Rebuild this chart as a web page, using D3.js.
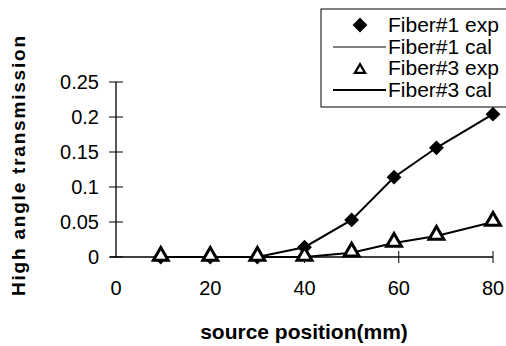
<!DOCTYPE html>
<html>
<head>
<meta charset="utf-8">
<script src="https://cdn.jsdelivr.net/npm/d3@7"></script>
<style>
  body { margin: 0; background: #fff; }
  svg { font-family: "Liberation Sans", Arial, sans-serif; }
</style>
</head>
<body>
<svg id="chart" width="506" height="346"></svg>
<script>
// source positions (mm)
var positions = [9.5, 20, 30, 40, 50, 59, 68, 80];
var fiber1Exp = [0, 0, 0, 0.014, 0.053, 0.114, 0.156, 0.204];
var fiber1Cal = [0, 0, 0, 0.014, 0.053, 0.114, 0.156, 0.204];
var fiber3Exp = [0, 0, 0, 0, 0.006, 0.02, 0.03, 0.05];
var fiber3Cal = [0, 0, 0, 0, 0.006, 0.02, 0.03, 0.05];
var xTicks = [0, 20, 40, 60, 80];
var yTicks = [0, 0.05, 0.1, 0.15, 0.2, 0.25];
var yTickLabels = ["0", "0.05", "0.1", "0.15", "0.2", "0.25"];
var legendLabels = ["Fiber#1 exp", "Fiber#1 cal", "Fiber#3 exp", "Fiber#3 cal"];

var svg = d3.select("#chart");

var x = d3.scaleLinear().domain([0, 80]).range([116, 493]);
var y = d3.scaleLinear().domain([0, 0.25]).range([257, 82]);

// axes
svg.append("line")
	.attr("x1", x(0)).attr("x2", x(0))
	.attr("y1", y(0.25)).attr("y2", y(0))
	.attr("stroke", "#000").attr("stroke-width", 1.3);
svg.append("line")
	.attr("x1", x(0) - 6).attr("x2", x(80))
	.attr("y1", y(0)).attr("y2", y(0))
	.attr("stroke", "#000").attr("stroke-width", 1.3);

svg.append("g").selectAll("line")
	.data(yTicks)
	.enter()
	.append("line")
	.attr("x1", x(0) - 7).attr("x2", x(0) + 7)
	.attr("y1", function(d) { return y(d); })
	.attr("y2", function(d) { return y(d); })
	.attr("stroke", "#000").attr("stroke-width", 1);

svg.append("g").selectAll("line")
	.data(xTicks.slice(1))
	.enter()
	.append("line")
	.attr("x1", function(d) { return x(d); })
	.attr("x2", function(d) { return x(d); })
	.attr("y1", y(0) - 6).attr("y2", y(0) + 6)
	.attr("stroke", "#000").attr("stroke-width", 1);

svg.append("g").selectAll("text")
	.data(yTicks)
	.enter()
	.append("text")
	.attr("x", 99)
	.attr("y", function(d) { return y(d); })
	.attr("dy", "0.36em")
	.attr("text-anchor", "end")
	.style("font-size", "20px")
	.text(function(d, i) { return yTickLabels[i]; });

svg.append("g").selectAll("text")
	.data(xTicks)
	.enter()
	.append("text")
	.attr("x", function(d) { return x(d); })
	.attr("y", 295)
	.attr("text-anchor", "middle")
	.style("font-size", "20px")
	.text(function(d) { return d; });

// axis titles
svg.append("text")
	.attr("x", 304).attr("y", 339)
	.attr("text-anchor", "middle")
	.style("font-size", "21px").style("font-weight", "bold")
	.text("source position(mm)");

svg.append("text")
	.attr("transform", "translate(25,166) rotate(-90)")
	.attr("text-anchor", "middle")
	.attr("textLength", 260)
	.attr("lengthAdjust", "spacing")
	.style("font-size", "19px").style("font-weight", "bold")
	.text("High angle  transmission");

// lines
var line = d3.line()
	.x(function(d, i) { return x(positions[i]); })
	.y(function(d) { return y(d); });

svg.append("path").datum(fiber1Cal)
	.attr("d", line).attr("fill", "none")
	.attr("stroke", "#000").attr("stroke-width", 2);
svg.append("path").datum(fiber3Cal)
	.attr("d", line).attr("fill", "none")
	.attr("stroke", "#000").attr("stroke-width", 2);

var diamond = d3.symbol().type(d3.symbolSquare).size(110);
var triangle = d3.symbol().type(d3.symbolTriangle).size(95);

svg.append("g").selectAll("path")
	.data(fiber1Exp)
	.enter()
	.append("path")
	.attr("d", diamond)
	.attr("transform", function(d, i) { return "translate(" + x(positions[i]) + "," + y(d) + ") rotate(45)"; })
	.attr("fill", "#000");

svg.append("g").selectAll("path")
	.data(fiber3Exp)
	.enter()
	.append("path")
	.attr("d", triangle)
	.attr("transform", function(d, i) { return "translate(" + x(positions[i]) + "," + (y(d) - 1) + ")"; })
	.attr("fill", "#fff")
	.attr("stroke", "#000").attr("stroke-width", 3);

// legend
var lg = svg.append("g");
lg.append("rect")
	.attr("x", 321).attr("y", 9)
	.attr("width", 200).attr("height", 98)
	.attr("fill", "#fff")
	.attr("stroke", "#000").attr("stroke-width", 1);

lg.selectAll("text")
	.data(legendLabels)
	.enter()
	.append("text")
	.attr("x", 388)
	.attr("y", function(d, i) { return 32 + i * 21.7; })
	.style("font-size", "21px")
	.text(function(d) { return d; });

lg.append("path")
	.attr("d", diamond)
	.attr("transform", "translate(360,25) rotate(45)")
	.attr("fill", "#000");
lg.append("line")
	.attr("x1", 333).attr("x2", 386).attr("y1", 47).attr("y2", 47)
	.attr("stroke", "#000").attr("stroke-width", 1);
lg.append("path")
	.attr("d", d3.symbol().type(d3.symbolTriangle).size(45))
	.attr("transform", "translate(360,70)")
	.attr("fill", "#fff")
	.attr("stroke", "#000").attr("stroke-width", 2.2);
lg.append("line")
	.attr("x1", 333).attr("x2", 386).attr("y1", 90).attr("y2", 90)
	.attr("stroke", "#000").attr("stroke-width", 2);
</script>
</body>
</html>
